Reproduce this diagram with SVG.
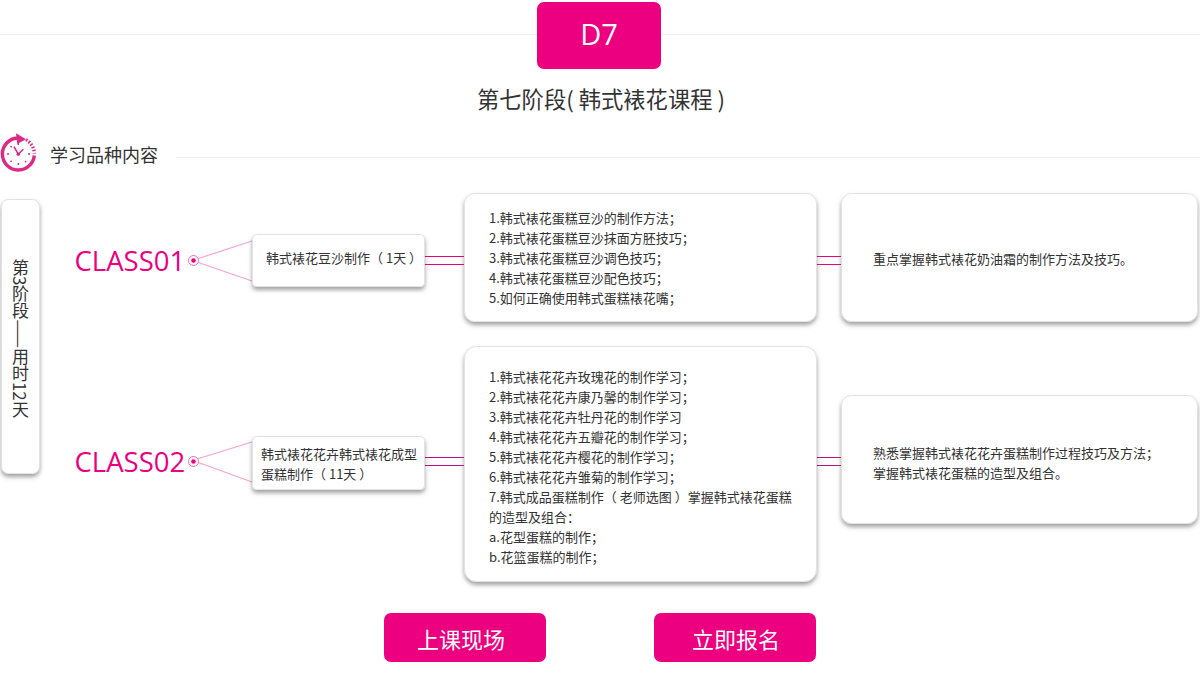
<svg xmlns="http://www.w3.org/2000/svg" width="1200" height="689" viewBox="0 0 1200 689">
<defs>
<filter id="sh" x="-10%" y="-10%" width="120%" height="125%"><feDropShadow dx="0" dy="3" stdDeviation="2.2" flood-color="#555" flood-opacity=".55"/></filter>
</defs>
<style>
text{font-family:"Noto Sans CJK SC","Liberation Sans",sans-serif;fill:#333}
.card{fill:#fff;stroke:#e2e2e2;stroke-width:1;filter:url(#sh)}
.t{font-size:13px}
.btn{fill:#ec0080}
.bt{fill:#fff;font-size:22px;text-anchor:middle}
.cl{font-family:"Open Sans","Liberation Sans",sans-serif;fill:#ec0080;font-size:27.5px}
.rule{stroke:#efefef;stroke-width:1}
.br{stroke:#f7a3cf;stroke-width:1.2;fill:none}
.ln{stroke:#ec0080;stroke-width:1;fill:none}
.dot{fill:#fff;stroke:#f06db2;stroke-width:1}
.dc{fill:#ec0080}
</style>
<rect width="1200" height="689" fill="#fff"/>
<g id="header">
<line class="rule" x1="0" y1="34.5" x2="1200" y2="34.5"/>
<rect class="btn" x="537" y="2" width="124" height="67" rx="7"/>
<text x="599" y="45" text-anchor="middle" style="fill:#fff;font-family:'Open Sans','Liberation Sans',sans-serif;font-size:29px">D7</text>
<text x="601" y="108" text-anchor="middle" font-size="22.3" xml:space="preserve">第七阶段( 韩式裱花课程 )</text>
</g>
<g id="section-title">
<g fill="none" stroke="#dc2a84">
<path d="M17.500 138A16 16 0 1 0 34.300 155.500" stroke-width="3.400"/>
<path d="M26 139.800A16 16 0 0 1 34.300 153.500" stroke-width="3.400" stroke-dasharray="1.600 1.600"/>
<path d="M14 146.700L18.300 154.300L23.300 149.300" stroke-width="1.600"/>
<path d="M18.300 143v2M18.300 163v2M7 154h2M28 154h2M10.500 146l1.200 1.200M25 161l1.200 1.200M10.500 162l1.200-1.200" stroke-width="1.400"/>
</g>
<circle cx="18.300" cy="154.300" r="1.700" fill="#dc2a84"/>
<path d="M16 133.300L26 139.300L17.300 144Z" fill="#dc2a84"/>
<text x="50" y="162" font-size="18">学习品种内容</text>
<line class="rule" x1="176" y1="157.500" x2="1200" y2="157.500"/>
</g>
<g id="connectors">
<path class="br" d="M197 259L252 241M197 262L252 281"/>
<path class="br" d="M197 459L252 442M197 462L252 482"/>
<path class="ln" d="M425 256.500H464M425 264.500H464M817 256.500H841M817 264.500H841"/>
<path class="ln" d="M425 457.500H464M425 465.500H464M817 457.500H841M817 465.500H841" style="stroke:#c4107a"/>
</g>
<g id="stage">
<rect class="card" x="1.500" y="199.500" width="38" height="274" rx="7"/>
<text x="20.500" y="259" style="font-size:17px;writing-mode:vertical-rl;text-orientation:mixed">第3阶段——用时12天</text>
</g>
<g id="class01">
<text class="cl" x="74.500" y="271">CLASS01</text>
<circle class="dot" cx="193.500" cy="260.500" r="5"/><circle class="dc" cx="193.500" cy="260.500" r="2.300"/>
</g>
<g id="class02">
<text class="cl" x="74.500" y="472">CLASS02</text>
<circle class="dot" cx="193.500" cy="461.500" r="5"/><circle class="dc" cx="193.500" cy="461.500" r="2.300"/>
</g>
<g id="n1">
<rect class="card" x="252.500" y="234.500" width="172" height="52" rx="4"/>
<text class="t" x="266" y="263">韩式裱花豆沙制作（ 1天 ）</text>
</g>
<g id="n2">
<rect class="card" x="252.500" y="436.500" width="172" height="53" rx="4"/>
<text class="t" x="261" y="459">韩式裱花花卉韩式裱花成型</text>
<text class="t" x="261" y="479">蛋糕制作（ 11天 ）</text>
</g>
<g id="n3">
<rect class="card" x="464.500" y="193.500" width="352" height="128" rx="10"/>
<text class="t" x="489" y="223">1.韩式裱花蛋糕豆沙的制作方法；</text>
<text class="t" x="489" y="243">2.韩式裱花蛋糕豆沙抹面方胚技巧；</text>
<text class="t" x="489" y="263">3.韩式裱花蛋糕豆沙调色技巧；</text>
<text class="t" x="489" y="283">4.韩式裱花蛋糕豆沙配色技巧；</text>
<text class="t" x="489" y="303">5.如何正确使用韩式蛋糕裱花嘴；</text>
</g>
<g id="n4">
<rect class="card" x="464.500" y="346.500" width="352" height="235" rx="12"/>
<text class="t" x="489" y="382">1.韩式裱花花卉玫瑰花的制作学习；</text>
<text class="t" x="489" y="402">2.韩式裱花花卉康乃馨的制作学习；</text>
<text class="t" x="489" y="422">3.韩式裱花花卉牡丹花的制作学习</text>
<text class="t" x="489" y="442">4.韩式裱花花卉五瓣花的制作学习；</text>
<text class="t" x="489" y="462">5.韩式裱花花卉樱花的制作学习；</text>
<text class="t" x="489" y="482">6.韩式裱花花卉雏菊的制作学习；</text>
<text class="t" x="489" y="502">7.韩式成品蛋糕制作（ 老师选图 ）掌握韩式裱花蛋糕</text>
<text class="t" x="489" y="522">的造型及组合：</text>
<text class="t" x="489" y="542">a.花型蛋糕的制作；</text>
<text class="t" x="489" y="562">b.花篮蛋糕的制作；</text>
</g>
<g id="n5">
<rect class="card" x="841.500" y="193.500" width="356" height="128" rx="10"/>
<text class="t" x="873" y="264">重点掌握韩式裱花奶油霜的制作方法及技巧。</text>
</g>
<g id="n6">
<rect class="card" x="841.500" y="395.500" width="356" height="128" rx="10"/>
<text class="t" x="873" y="458">熟悉掌握韩式裱花花卉蛋糕制作过程技巧及方法；</text>
<text class="t" x="873" y="478">掌握韩式裱花蛋糕的造型及组合。</text>
</g>
<g id="buttons">
<rect class="btn" x="384" y="613" width="162" height="49" rx="7"/>
<text class="bt" x="461" y="648">上课现场</text>
<rect class="btn" x="654" y="613" width="162" height="49" rx="7"/>
<text class="bt" x="736" y="648">立即报名</text>
</g>
</svg>
